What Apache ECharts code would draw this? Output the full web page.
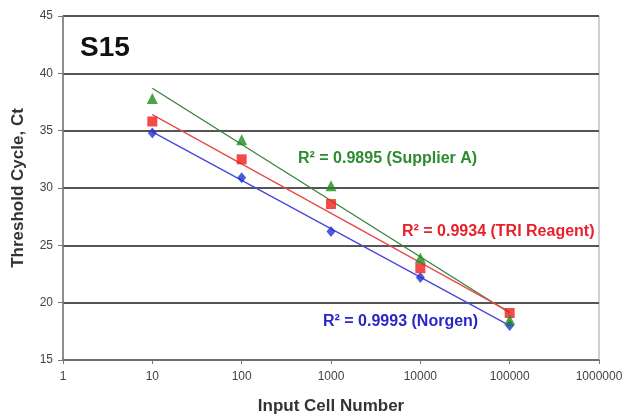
<!DOCTYPE html>
<html><head><meta charset="utf-8">
<script src="https://cdn.jsdelivr.net/npm/echarts@6/dist/echarts.min.js"></script>
<style>html,body{margin:0;padding:0;background:#fff}#c{width:627px;height:420px}</style>
</head><body><div id="c"></div>
<script>
const cellNumbers = [10, 100, 1000, 10000, 100000];
const norgen = [34.8, 30.9, 26.2, 22.2, 18.0];
const triReagent = [35.8, 32.5, 28.6, 23.0, 19.1];
const supplierA = [37.8, 34.2, 30.2, 23.9, 18.5];
// trendline end values read at x = 10 and x = 100000
const trendX = [10, 100000];
const norgenTrend = [34.9, 18.0];
const triTrend = [36.4, 19.2];
const supplierTrend = [38.7, 19.1];
const xTicks = [1, 10, 100, 1000, 10000, 100000, 1000000];
const yTicks = [15, 20, 25, 30, 35, 40, 45];

const pair = (xs, ys) => xs.map((x, i) => [x, ys[i]]);
const FONT = '"Liberation Sans", Arial, sans-serif';

const chart = echarts.init(document.getElementById('c'));
chart.setOption({
  animation: false,
  grid: {left: 63, right: 28, top: 16, bottom: 59, show: true, borderColor: '#a0a0a0', borderWidth: 1},
  xAxis: {
    type: 'log', logBase: 10, min: xTicks[0], max: xTicks[xTicks.length - 1],
    name: 'Input Cell Number', nameLocation: 'middle', nameGap: 38,
    nameTextStyle: {fontFamily: FONT, fontWeight: 'bold', fontSize: 17, color: '#333'},
    axisLine: {lineStyle: {color: '#777', width: 1.5}},
    axisTick: {show: true, length: 4, lineStyle: {color: '#777'}},
    axisLabel: {fontFamily: FONT, fontSize: 12, color: '#444', margin: 11,
      formatter: v => String(Math.round(v))},
    splitLine: {show: false}, minorTick: {show: false}
  },
  yAxis: {
    type: 'value', min: yTicks[0], max: yTicks[yTicks.length - 1], interval: 5,
    name: 'Threshold Cycle, Ct', nameLocation: 'middle', nameGap: 36,
    nameTextStyle: {fontFamily: FONT, fontWeight: 'bold', fontSize: 17, color: '#333'},
    axisLine: {show: true, lineStyle: {color: '#777', width: 1.5}},
    axisTick: {show: true, length: 5, lineStyle: {color: '#777'}},
    axisLabel: {fontFamily: FONT, fontSize: 12, color: '#444', margin: 10},
    splitLine: {show: true, lineStyle: {color: '#555', width: 2}}
  },
  series: [
    {type: 'line', data: pair(trendX, supplierTrend), symbol: 'none', lineStyle: {color: '#3a803a', width: 1.3}, z: 2},
    {type: 'line', data: pair(trendX, triTrend), symbol: 'none', lineStyle: {color: '#e84848', width: 1.3}, z: 2},
    {type: 'line', data: pair(trendX, norgenTrend), symbol: 'none', lineStyle: {color: '#4646dc', width: 1.3}, z: 2},
    {type: 'scatter', data: pair(cellNumbers, norgen), symbol: 'diamond', symbolSize: [9, 11], itemStyle: {color: '#1e32d2'}, z: 3},
    {type: 'scatter', data: pair(cellNumbers, triReagent), symbol: 'rect', symbolSize: 10, itemStyle: {color: '#f01e1e'}, z: 4},
    {type: 'scatter', data: pair(cellNumbers, supplierA), symbol: 'triangle', symbolSize: [11, 11], itemStyle: {color: '#1e8c1e'}, z: 5}
  ],
  graphic: [
    {type: 'text', left: 80, top: 34, style: {text: 'S15', fontFamily: FONT, fontWeight: 'bold', fontSize: 28, fill: '#111'}},
    {type: 'text', left: 298, top: 151, style: {text: 'R² = 0.9895 (Supplier A)', fontFamily: FONT, fontWeight: 'bold', fontSize: 16, fill: '#2e8b2e'}},
    {type: 'text', left: 402, top: 224, style: {text: 'R² = 0.9934 (TRI Reagent)', fontFamily: FONT, fontWeight: 'bold', fontSize: 16, fill: '#e8202a'}},
    {type: 'text', left: 323, top: 314, style: {text: 'R² = 0.9993 (Norgen)', fontFamily: FONT, fontWeight: 'bold', fontSize: 16, fill: '#2828c8'}}
  ]
});
</script></body></html>
